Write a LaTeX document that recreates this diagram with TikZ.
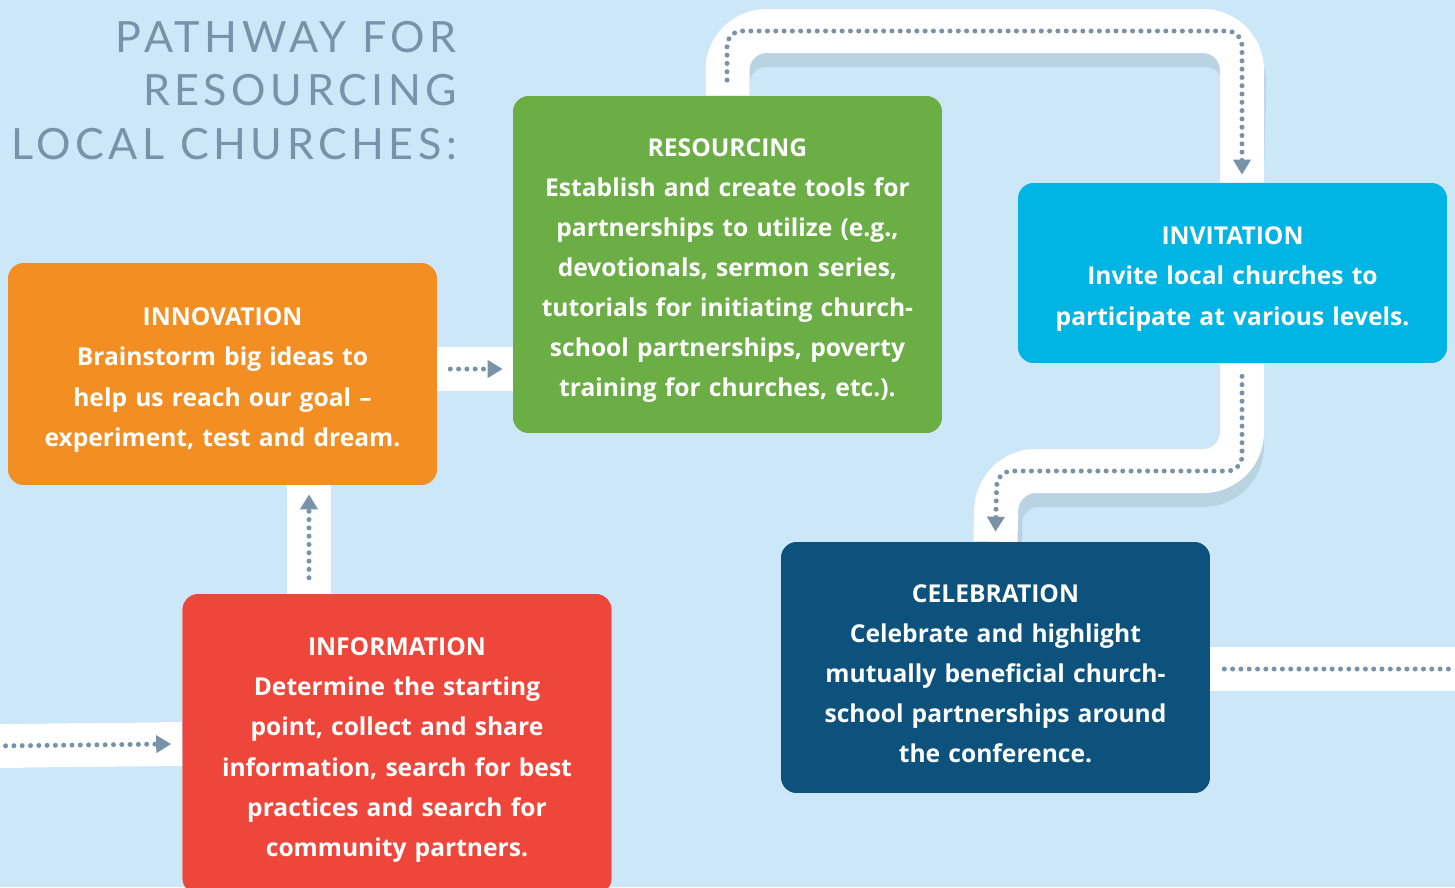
\documentclass[tikz,border=0pt]{standalone}
\usepackage{fontspec}
\setmainfont{Lato}
\newfontfamily\boxfont{Open Sans}
\usetikzlibrary{arrows.meta}
\definecolor{bgblue}{HTML}{CCE7F8}
\definecolor{dotgrey}{HTML}{7892AA}
\definecolor{roadgrey}{HTML}{A6BCCB}
\definecolor{innorange}{HTML}{F28E22}
\definecolor{resgreen}{HTML}{6BAE45}
\definecolor{invcyan}{HTML}{00B4E4}
\definecolor{celblue}{HTML}{0C527C}
\definecolor{infored}{HTML}{EF463C}
\newcommand{\toprule}{\rule{0pt}{17pt}}
\tikzset{
  stage/.style={fill=#1, rounded corners=0.32cm, minimum width=8.58cm, text=white,
    align=center, text width=8.2cm, font=\boxfont\bfseries\fontsize{14}{22.8}\selectfont},
  road/.style={line width=0.88cm, white, rounded corners=0.78cm},
  roadshadow/.style={line width=0.88cm, roadgrey, opacity=0.45, rounded corners=0.78cm},
  dots/.style={line width=0.1cm, dotgrey, line cap=round, dash pattern=on 0pt off 0.166cm,
    rounded corners=0.3cm},
  tip/.style={-{Triangle[width=0.34cm,length=0.3cm]}}
}
\begin{document}
\begin{tikzpicture}[x=0.02cm, y=-0.02cm]
  \fill[bgblue] (0,0) rectangle (1455,887);
  \useasboundingbox (0,0) rectangle (1455,887);
  \path   coordinate (in) at (0,746)
          coordinate (up) at (309,0)
          coordinate (out) at (1455,669)
          node[stage=innorange, minimum height=4.44cm] (inno) at (222.5,374) {}
          node[stage=resgreen, minimum height=6.74cm] (res) at (727.5,264.5) {}
          node[stage=invcyan, minimum height=3.6cm] (inv) at (1232.5,273) {}
          node[stage=celblue, minimum height=5.02cm] (cel) at (995.5,667.5) {}
          node[stage=infored, minimum height=6cm] (info) at (397,744) {};
  % roads under the boxes
  \draw[roadshadow, shift={(3,14)}] (in) -- (info.west);
  \draw[roadshadow, shift={(3,14)}] ([yshift=0.1cm]inno.east) -- ([yshift=0.1cm]inno.east -| res.west);
  \draw[roadshadow, shift={(3,14)}] (cel.east |- out) -- (out);
  \draw[roadshadow, shift={(3,14)}] (res.north) |- (1242,31) -- ([xshift=0.19cm]inv.north);
  \draw[roadshadow, shift={(3,14)}] ([xshift=0.19cm]inv.south) |- (997,471) -- (997,542);
  \draw[road] (in) -- (info.west);
  \draw[road] (info.north -| up) -- (inno.south -| up);
  \draw[road] ([yshift=0.1cm]inno.east) -- ([yshift=0.1cm]inno.east -| res.west);
  \draw[road] (cel.east |- out) -- (out);
  \draw[road] (res.north) |- (1242,31) -- ([xshift=0.19cm]inv.north);
  \draw[road] ([xshift=0.19cm]inv.south) |- (997,471) -- (cel.north);
  % boxes again on top
  \path   node[stage=innorange, minimum height=4.44cm] (inno) at (222.5,374)
            {\toprule INNOVATION\\Brainstorm big ideas to\\help us reach our goal \textendash\\experiment, test and dream.}
          node[stage=resgreen, minimum height=6.74cm] (res) at (727.5,264.5)
            {\toprule RESOURCING\\Establish and create tools for\\partnerships to utilize (e.g.,\\devotionals, sermon series,\\tutorials for initiating church-\\school partnerships, poverty\\training for churches, etc.).}
          node[stage=invcyan, minimum height=3.6cm] (inv) at (1232.5,273)
            {\toprule INVITATION\\Invite local churches to\\participate at various levels.}
          node[stage=celblue, minimum height=5.02cm] (cel) at (995.5,667.5)
            {\toprule CELEBRATION\\Celebrate and highlight\\mutually beneficial church-\\school partnerships around\\the conference.}
          node[stage=infored, minimum height=6cm] (info) at (397,744)
            {\toprule INFORMATION\\Determine the starting\\point, collect and share\\information, search for best\\practices and search for\\community partners.};
  \node[anchor=north east, align=right, text=dotgrey,
        font=\addfontfeatures{LetterSpace=10.5}\fontsize{24.5}{30.4}\selectfont] (title) at (463,15)
        {PATHWAY FOR\\RESOURCING\\LOCAL CHURCHES:};
  % dotted paths
  \draw[dots, tip] ([xshift=-0.22cm]in) -- ([xshift=-0.22cm]info.west);
  \draw[dots, tip] ([yshift=0.32cm]info.north -| up) -- ([yshift=-0.18cm]inno.south -| up);
  \draw[dots, tip] ([xshift=0.26cm,yshift=0.1cm]inno.east) -- ([xshift=-0.2cm,yshift=0.1cm]inno.east -| res.west);
  \draw[dots, tip] (727,80) |- (1242,31) -- ([xshift=0.19cm,yshift=0.16cm]inv.north);
  \draw[dots, tip] ([xshift=0.19cm,yshift=-0.26cm]inv.south) |- (997,471) -- ([yshift=0.2cm]cel.north);
  \draw[dots] ([xshift=0.28cm]cel.east |- out) -- (out);
\end{tikzpicture}
\end{document}
